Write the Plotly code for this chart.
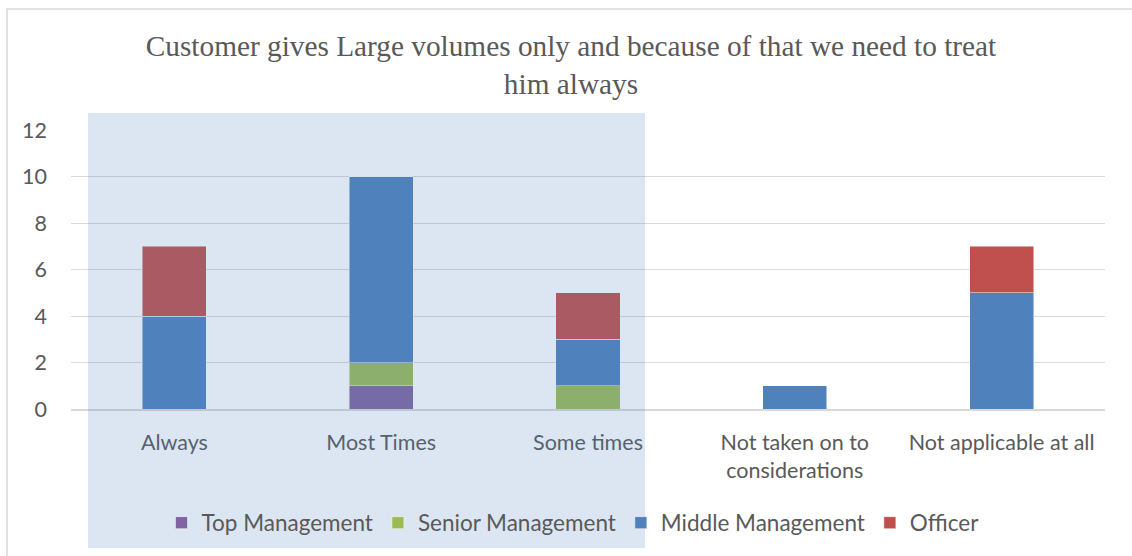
import plotly.graph_objects as go

# Survey responses by staff level
categories = ["Always", "Most Times", "Some times", "Not taken on to<br>considerations", "Not applicable at all"]
top_management = [0, 1, 0, 0, 0]
senior_management = [0, 1, 1, 0, 0]
middle_management = [4, 8, 2, 1, 5]
officer = [3, 0, 2, 0, 2]

series = [
    ("Top Management", top_management, "#8064A2"),
    ("Senior Management", senior_management, "#9BBB59"),
    ("Middle Management", middle_management, "#4F81BD"),
    ("Officer", officer, "#C0504D"),
]

W, H = 1132, 556
L, R, T, B = 71, 27, 130, 147
pw, ph = W - L - R, H - T - B


def px_x(p):
    return (p - L) / pw


def px_y(p):
    return (H - B - p) / ph


fig = go.Figure()
for name, vals, col in series:
    fig.add_trace(go.Bar(
        name=name, x=categories, y=vals,
        marker=dict(color=col, line=dict(color="rgba(255,255,255,0.6)", width=0.8)),
    ))

text_font = dict(family="Lato", size=21.5, color="#595959")

fig.update_layout(
    width=W, height=H,
    margin=dict(l=L, r=R, t=T, b=B),
    paper_bgcolor="white", plot_bgcolor="white",
    barmode="stack", bargap=0.69,
    font=text_font,
    title=dict(
        text="Customer gives Large volumes only and because of that we need to treat<br>him always",
        x=571 / W, xanchor="center", y=1 - 56 / H, yanchor="top",
        font=dict(family="Liberation Serif", size=29.3, color="#595959"),
    ),
    legend=dict(
        orientation="h", x=px_x(573), xanchor="center", y=px_y(523), yanchor="middle",
        bgcolor="rgba(0,0,0,0)", font=dict(family="Lato", size=22.5, color="#595959"),
        traceorder="normal",
    ),
    xaxis=dict(
        showgrid=False, showline=True, linecolor="#D9D9D9", linewidth=1.5,
        ticks="", ticklabelstandoff=13, tickfont=text_font,
    ),
    yaxis=dict(
        range=[0, 12], dtick=2, showgrid=True, gridcolor="#D9D9D9", gridwidth=1.3,
        zeroline=False, showline=False, ticks="", ticklabelstandoff=23, tickfont=text_font,
    ),
    shapes=[
        # chart frame
        dict(type="rect", xref="paper", yref="paper",
             x0=px_x(7), x1=px_x(1145), y0=px_y(570), y1=px_y(9),
             line=dict(color="#D9D9D9", width=1.5), fillcolor="rgba(0,0,0,0)", layer="below"),
        # selection highlight over the first three categories
        dict(type="rect", xref="paper", yref="paper",
             x0=px_x(88), x1=px_x(645), y0=px_y(548), y1=px_y(113),
             line=dict(width=0), fillcolor="rgba(79,129,189,0.2)", layer="above"),
    ],
)

fig.write_html("out.html")
